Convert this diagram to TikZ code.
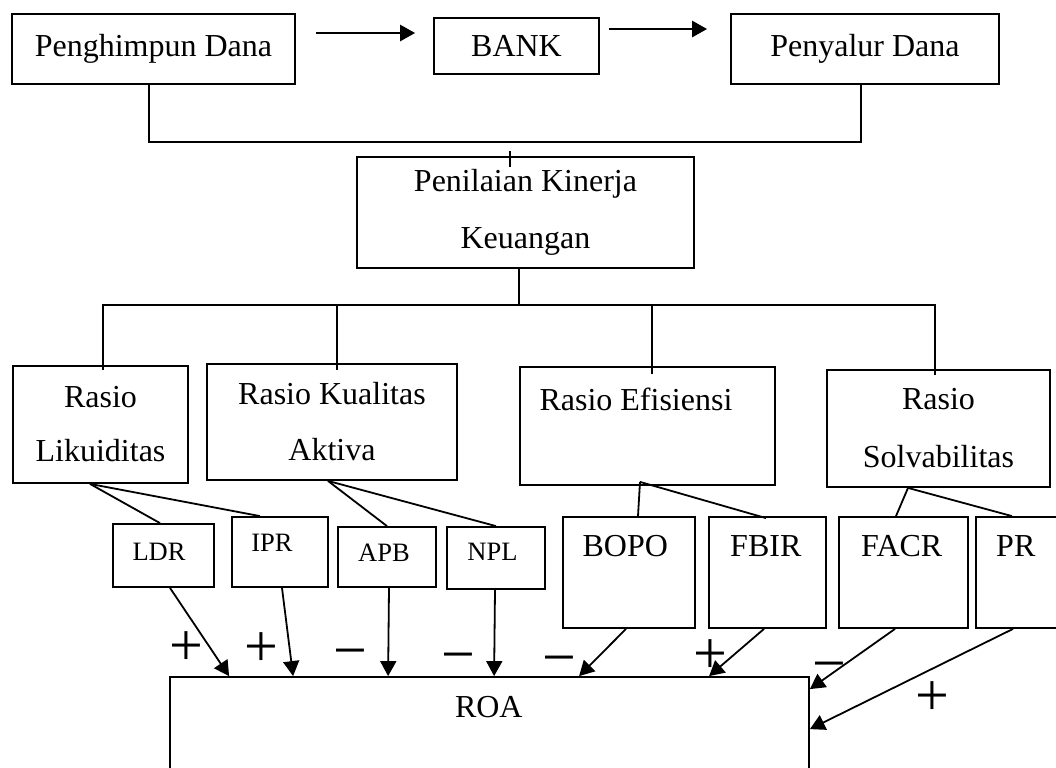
\documentclass[tikz,border=0pt]{standalone}
\usepackage{fontspec}
\setmainfont{Liberation Serif}
\usetikzlibrary{arrows.meta,calc}

% text moved inside its box: xshift (half of #1 doubled), raise of the baseline
\newcommand{\boxtext}[3]{\raisebox{#2}[0pt][0pt]{\makebox[0pt]{\hspace*{#1}\hspace*{#1}#3}}}

\tikzset{
	box/.style={draw=black, line width=0.9pt, inner sep=0pt, align=center, font=\fontsize{16}{28}\selectfont},
	smallbox/.style={box, font=\fontsize{13.25}{16}\selectfont},
	arrow/.style={-{Triangle[length=7.5pt,width=8pt]}, line width=0.9pt},
	sign/.style={inner sep=0pt, text height=15pt, text depth=0pt, font=\fontsize{30}{30}\selectfont}
}

\begin{document}
\begin{tikzpicture}[x=0.5pt,y=-0.5pt]
		\useasboundingbox (0,0) rectangle (1056,767);
		\clip (0,0) rectangle (1056,767);
		
		% top row
		\node[box, minimum width=141.5pt, minimum height=35pt] (Penghimpun) at (153.5,49) {Penghimpun Dana};
		\node[box, minimum width=82.5pt, minimum height=28pt] (BANK) at (516.5,46) {BANK};
		\node[box, minimum width=134pt, minimum height=35pt] (Penyalur) at (865,49) {Penyalur Dana};
		
		\node[box, minimum width=168.5pt, minimum height=55.5pt, font=\fontsize{16}{28.5}\selectfont] (Penilaian) at (525.5,212.5) {Penilaian Kinerja\\Keuangan};
		
		% ratio boxes
		\node[box, minimum width=87.5pt, minimum height=58.5pt, font=\fontsize{16}{27}\selectfont] (Likuiditas) at (100.5,424.5) {Rasio\\Likuiditas};
		\node[box, minimum width=125pt, minimum height=58pt] (Kualitas) at (332,422) {Rasio Kualitas\\Aktiva};
		\node[box, minimum width=127.5pt, minimum height=59pt] (Efisiensi) at (647.5,426) {\boxtext{-5.75pt}{7.95pt}{Rasio Efisiensi}};
		\node[box, minimum width=111.5pt, minimum height=58.5pt, font=\fontsize{16}{29}\selectfont] (Solvabilitas) at (938.5,428.5) {Rasio\\Solvabilitas};
		
		% indicators
		\node[smallbox, minimum width=50.5pt, minimum height=31.5pt] (LDR) at (163.5,555.5) {\boxtext{-2.25pt}{-2.65pt}{LDR}};
		\node[smallbox, minimum width=48pt, minimum height=35pt] (IPR) at (280,552) {\boxtext{-4pt}{0.1pt}{IPR}};
		\node[smallbox, minimum width=49pt, minimum height=30pt] (APB) at (387,557) {\boxtext{-1.5pt}{-2.15pt}{APB}};
		\node[smallbox, minimum width=49pt, minimum height=31pt] (NPL) at (496,558) {\boxtext{-1.75pt}{-1.4pt}{NPL}};
		\foreach \name/\x/\w/\dx in {BOPO/629/66/-1.85pt, FBIR/767.5/58.5/-0.85pt, FACR/903.5/64.5/-0.9pt, PR/1018/42/-1.1pt} {
			\node[box, minimum width=\w pt, minimum height=55.5pt] (\name) at (\x,572.5) {\boxtext{\dx}{7.95pt}{\name}};
		}
		
		\node[box, minimum width=319.5pt, minimum height=61.5pt] (ROA) at (489.5,738.5) {\boxtext{-0.35pt}{10.6pt}{ROA}};
		
		% flow on top
		\draw[arrow, line width=1.4pt] ($(Penghimpun.east)+(20,-16)$) -- ($(BANK.west)+(-18,-13)$);
		\draw[arrow, line width=1.4pt] ($(BANK.east)+(9,-17)$) -- ($(Penyalur.west)+(-23,-20)$);
		\draw[line width=0.9pt] ([xshift=-2.25pt]Penghimpun.south) -- ++(0,57) -| ([xshift=-2pt]Penyalur.south);
		\draw[line width=0.9pt] ($(Penilaian.north)+(-15.5,-5)$) -- ++(0,16);
		
		% tree to the ratios
		\coordinate (hub) at ($(Penilaian.south)+(-6.5,36)$);
		\draw[line width=0.9pt] (Penilaian.south -| hub) -- (hub);
		\draw[line width=0.9pt] ([xshift=1.25pt,yshift=-2.5pt]Likuiditas.north) |- (hub) -| ([xshift=-1.75pt,yshift=-3pt]Solvabilitas.north);
		\draw[line width=0.9pt] ([xshift=2.5pt,yshift=-3.5pt]Kualitas.north) |- (hub);
		\draw[line width=0.9pt] ([xshift=2.25pt,yshift=-4pt]Efisiensi.north) |- (hub);
		
		\draw[line width=0.9pt] ([xshift=-5.25pt]Likuiditas.south) -- ([xshift=-1.75pt]LDR.north);
		\draw[line width=0.9pt] ([xshift=-5.25pt]Likuiditas.south) -- ([xshift=-10pt]IPR.north);
		\draw[line width=0.9pt] ([xshift=-2pt]Kualitas.south) -- (APB.north);
		\draw[line width=0.9pt] ([xshift=-2pt]Kualitas.south) -- (NPL.north);
		\draw[line width=0.9pt] ([xshift=-3.75pt,yshift=2pt]Efisiensi.south) -- ([xshift=4.5pt]BOPO.north);
		\draw[line width=0.9pt] ([xshift=-3.75pt,yshift=2pt]Efisiensi.south) -- ([xshift=-0.75pt,yshift=-1pt]FBIR.north);
		\draw[line width=0.9pt] ([xshift=-15.25pt]Solvabilitas.south) -- ([xshift=-3.75pt]FACR.north);
		\draw[line width=0.9pt] ([xshift=-15.25pt]Solvabilitas.south) -- ([xshift=-3pt]PR.north);
		
		% arrows into ROA
		\draw[arrow] ([xshift=3.25pt]LDR.south) -- ([xshift=30pt]ROA.north west);
		\draw[arrow] ([xshift=1pt]IPR.south) -- ([xshift=62pt]ROA.north west);
		\draw[arrow] ([xshift=1pt]APB.south) -- ([xshift=109.5pt]ROA.north west);
		\draw[arrow] ([xshift=-0.5pt]NPL.south) -- ([xshift=162.5pt]ROA.north west);
		\draw[arrow] ([xshift=-1.5pt]BOPO.south) -- ([xshift=205pt]ROA.north west);
		\draw[arrow] ([xshift=-1.75pt]FBIR.south) -- ([xshift=270pt]ROA.north west);
		\draw[arrow] ([xshift=-4.25pt]FACR.south) -- ([yshift=-6.5pt]ROA.north east);
		\draw[arrow] ([xshift=-2.5pt]PR.south) -- ([yshift=-26.5pt]ROA.north east);
		
		% signs
		\foreach \name/\sym/\x/\y in {plusA/+/186/650, plusB/+/261/651, minA/−/350/655, minB/−/458/659, minC/−/559/662, plusC/+/710/658, minD/−/829/668, plusD/+/932/700} {
			\node[sign] (\name) at (\x,\y) {\sym};
		}
		
	\end{tikzpicture}
\end{document}
